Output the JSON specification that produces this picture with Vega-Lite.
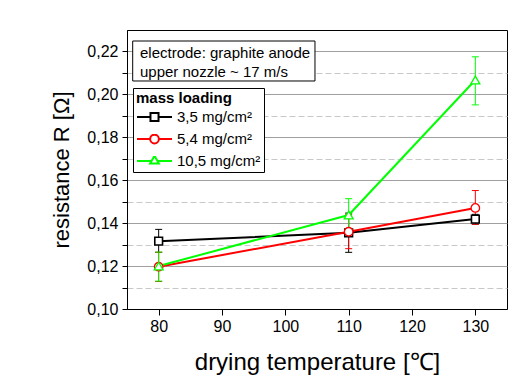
{
  "$schema": "https://vega.github.io/schema/vega-lite/v6.json",
  "width": 380,
  "height": 279,
  "autosize": {"type": "none"},
  "padding": {"left": 127, "top": 30, "right": 24, "bottom": 68},
  "background": "white",
  "config": {
    "font": "Liberation Sans",
    "view": {"stroke": "black", "strokeWidth": 1},
    "axis": {"domainColor": "black", "tickColor": "black", "labelColor": "black", "titleColor": "black", "titleFontWeight": "normal"}
  },
  "data": {
    "values": [
      {"series": "3,5 mg/cm²", "temp": 80, "R": 0.1316, "lo": 0.1264, "hi": 0.1371},
      {"series": "3,5 mg/cm²", "temp": 110, "R": 0.1355, "lo": 0.1264, "hi": 0.1447},
      {"series": "3,5 mg/cm²", "temp": 130, "R": 0.1419, "lo": 0.1395, "hi": 0.1441},
      {"series": "5,4 mg/cm²", "temp": 80, "R": 0.1197, "lo": 0.1128, "hi": 0.1264},
      {"series": "5,4 mg/cm²", "temp": 110, "R": 0.1360, "lo": 0.1281, "hi": 0.1441},
      {"series": "5,4 mg/cm²", "temp": 130, "R": 0.1471, "lo": 0.1395, "hi": 0.1552},
      {"series": "10,5 mg/cm²", "temp": 80, "R": 0.1200, "lo": 0.1130, "hi": 0.1265},
      {"series": "10,5 mg/cm²", "temp": 110, "R": 0.1438, "lo": 0.1362, "hi": 0.1514},
      {"series": "10,5 mg/cm²", "temp": 130, "R": 0.2067, "lo": 0.1951, "hi": 0.2175}
    ]
  },
  "layer": [
    {
      "mark": {"type": "rule", "strokeWidth": 1},
      "encoding": {
        "x": {"field": "temp", "type": "quantitative", "title": "drying temperature [℃]", "scale": {"domain": [75, 135], "nice": false, "zero": false},
          "axis": {"values": [80, 90, 100, 110, 120, 130], "title": "drying temperature [℃]", "grid": false, "tickSize": 6, "labelFontSize": 16, "labelPadding": 3, "titlePadding": 16, "titleFontSize": 24}},
        "y": {"field": "lo", "type": "quantitative", "title": "resistance R [Ω]", "scale": {"domain": [0.10, 0.23], "nice": false, "zero": false},
          "axis": {"values": [0.10, 0.11, 0.12, 0.13, 0.14, 0.15, 0.16, 0.17, 0.18, 0.19, 0.20, 0.21, 0.22], "title": "resistance R [Ω]", "titleFontSize": 22, "titlePadding": 13, "labelFontSize": 16, "labelPadding": 4, "tickSize": 5, "labelExpr": "round(datum.value*100)%2==0 ? replace(format(datum.value,'.2f'),'.',',') : ''", "grid": true, "gridColor": {"condition": {"test": "round(datum.value*100)%2==0", "value": "#808080"}, "value": "#c8c8c8"}, "gridDash": {"condition": {"test": "round(datum.value*100)%2==0", "value": [1, 0]}, "value": [6, 3]}}},
        "y2": {"field": "hi"},
        "stroke": {"field": "series", "type": "nominal", "title": "mass loading", "scale": {"domain": ["3,5 mg/cm²", "5,4 mg/cm²", "10,5 mg/cm²"], "range": ["#000000", "#ff0000", "#00ff00"]},
          "legend": {"title": "mass loading", "orient": "none", "legendX": 6, "legendY": 58, "strokeColor": "black", "fillColor": "white", "padding": 3, "titleFontSize": 15, "titleFontWeight": "bold", "titleColor": "black", "titlePadding": 6, "labelFontSize": 15, "labelColor": "black", "symbolSize": 1225, "symbolStrokeWidth": 2, "symbolFillColor": "white", "clipHeight": 10, "rowPadding": 7, "labelOffset": 4}}
      }
    },
    {
      "mark": {"type": "rule", "strokeWidth": 1, "xOffset": -3.5, "x2Offset": 3.5},
      "encoding": {
        "x": {"field": "temp", "type": "quantitative", "title": "drying temperature [℃]",
          "axis": {"values": [80, 90, 100, 110, 120, 130], "title": "drying temperature [℃]", "grid": false, "tickSize": 6, "labelFontSize": 16, "labelPadding": 3, "titlePadding": 16, "titleFontSize": 24}},
        "x2": {"field": "temp"},
        "y": {"field": "lo", "type": "quantitative", "title": "resistance R [Ω]",
          "axis": {"values": [0.10, 0.11, 0.12, 0.13, 0.14, 0.15, 0.16, 0.17, 0.18, 0.19, 0.20, 0.21, 0.22], "title": "resistance R [Ω]", "titleFontSize": 22, "titlePadding": 13, "labelFontSize": 16, "labelPadding": 4, "tickSize": 5, "labelExpr": "round(datum.value*100)%2==0 ? replace(format(datum.value,'.2f'),'.',',') : ''", "grid": true, "gridColor": {"condition": {"test": "round(datum.value*100)%2==0", "value": "#808080"}, "value": "#c8c8c8"}, "gridDash": {"condition": {"test": "round(datum.value*100)%2==0", "value": [1, 0]}, "value": [6, 3]}}},
        "stroke": {"field": "series", "type": "nominal", "title": "mass loading",
          "legend": {"title": "mass loading", "orient": "none", "legendX": 6, "legendY": 58, "strokeColor": "black", "fillColor": "white", "padding": 3, "titleFontSize": 15, "titleFontWeight": "bold", "titleColor": "black", "titlePadding": 6, "labelFontSize": 15, "labelColor": "black", "symbolSize": 1225, "symbolStrokeWidth": 2, "symbolFillColor": "white", "clipHeight": 10, "rowPadding": 7, "labelOffset": 4}}
      }
    },
    {
      "mark": {"type": "rule", "strokeWidth": 1, "xOffset": -3.5, "x2Offset": 3.5},
      "encoding": {
        "x": {"field": "temp", "type": "quantitative", "title": "drying temperature [℃]",
          "axis": {"values": [80, 90, 100, 110, 120, 130], "title": "drying temperature [℃]", "grid": false, "tickSize": 6, "labelFontSize": 16, "labelPadding": 3, "titlePadding": 16, "titleFontSize": 24}},
        "x2": {"field": "temp"},
        "y": {"field": "hi", "type": "quantitative", "title": "resistance R [Ω]",
          "axis": {"values": [0.10, 0.11, 0.12, 0.13, 0.14, 0.15, 0.16, 0.17, 0.18, 0.19, 0.20, 0.21, 0.22], "title": "resistance R [Ω]", "titleFontSize": 22, "titlePadding": 13, "labelFontSize": 16, "labelPadding": 4, "tickSize": 5, "labelExpr": "round(datum.value*100)%2==0 ? replace(format(datum.value,'.2f'),'.',',') : ''", "grid": true, "gridColor": {"condition": {"test": "round(datum.value*100)%2==0", "value": "#808080"}, "value": "#c8c8c8"}, "gridDash": {"condition": {"test": "round(datum.value*100)%2==0", "value": [1, 0]}, "value": [6, 3]}}},
        "stroke": {"field": "series", "type": "nominal", "title": "mass loading",
          "legend": {"title": "mass loading", "orient": "none", "legendX": 6, "legendY": 58, "strokeColor": "black", "fillColor": "white", "padding": 3, "titleFontSize": 15, "titleFontWeight": "bold", "titleColor": "black", "titlePadding": 6, "labelFontSize": 15, "labelColor": "black", "symbolSize": 1225, "symbolStrokeWidth": 2, "symbolFillColor": "white", "clipHeight": 10, "rowPadding": 7, "labelOffset": 4}}
      }
    },
    {
      "mark": {"type": "line", "strokeWidth": 2},
      "encoding": {
        "x": {"field": "temp", "type": "quantitative", "title": "drying temperature [℃]",
          "axis": {"values": [80, 90, 100, 110, 120, 130], "title": "drying temperature [℃]", "grid": false, "tickSize": 6, "labelFontSize": 16, "labelPadding": 3, "titlePadding": 16, "titleFontSize": 24}},
        "y": {"field": "R", "type": "quantitative", "title": "resistance R [Ω]",
          "axis": {"values": [0.10, 0.11, 0.12, 0.13, 0.14, 0.15, 0.16, 0.17, 0.18, 0.19, 0.20, 0.21, 0.22], "title": "resistance R [Ω]", "titleFontSize": 22, "titlePadding": 13, "labelFontSize": 16, "labelPadding": 4, "tickSize": 5, "labelExpr": "round(datum.value*100)%2==0 ? replace(format(datum.value,'.2f'),'.',',') : ''", "grid": true, "gridColor": {"condition": {"test": "round(datum.value*100)%2==0", "value": "#808080"}, "value": "#c8c8c8"}, "gridDash": {"condition": {"test": "round(datum.value*100)%2==0", "value": [1, 0]}, "value": [6, 3]}}},
        "stroke": {"field": "series", "type": "nominal", "title": "mass loading",
          "legend": {"title": "mass loading", "orient": "none", "legendX": 6, "legendY": 58, "strokeColor": "black", "fillColor": "white", "padding": 3, "titleFontSize": 15, "titleFontWeight": "bold", "titleColor": "black", "titlePadding": 6, "labelFontSize": 15, "labelColor": "black", "symbolSize": 1225, "symbolStrokeWidth": 2, "symbolFillColor": "white", "clipHeight": 10, "rowPadding": 7, "labelOffset": 4}}
      }
    },
    {
      "transform": [{"filter": "datum.series == '3,5 mg/cm²'"}],
      "mark": {"type": "point", "shape": "square", "filled": true, "fill": "white", "size": 60, "strokeWidth": 1.6, "opacity": 1},
      "encoding": {
        "x": {"field": "temp", "type": "quantitative", "title": "drying temperature [℃]",
          "axis": {"values": [80, 90, 100, 110, 120, 130], "title": "drying temperature [℃]", "grid": false, "tickSize": 6, "labelFontSize": 16, "labelPadding": 3, "titlePadding": 16, "titleFontSize": 24}},
        "y": {"field": "R", "type": "quantitative", "title": "resistance R [Ω]",
          "axis": {"values": [0.10, 0.11, 0.12, 0.13, 0.14, 0.15, 0.16, 0.17, 0.18, 0.19, 0.20, 0.21, 0.22], "title": "resistance R [Ω]", "titleFontSize": 22, "titlePadding": 13, "labelFontSize": 16, "labelPadding": 4, "tickSize": 5, "labelExpr": "round(datum.value*100)%2==0 ? replace(format(datum.value,'.2f'),'.',',') : ''", "grid": true, "gridColor": {"condition": {"test": "round(datum.value*100)%2==0", "value": "#808080"}, "value": "#c8c8c8"}, "gridDash": {"condition": {"test": "round(datum.value*100)%2==0", "value": [1, 0]}, "value": [6, 3]}}},
        "stroke": {"field": "series", "type": "nominal", "title": "mass loading",
          "legend": {"title": "mass loading", "orient": "none", "legendX": 6, "legendY": 58, "strokeColor": "black", "fillColor": "white", "padding": 3, "titleFontSize": 15, "titleFontWeight": "bold", "titleColor": "black", "titlePadding": 6, "labelFontSize": 15, "labelColor": "black", "symbolSize": 1225, "symbolStrokeWidth": 2, "symbolFillColor": "white", "clipHeight": 10, "rowPadding": 7, "labelOffset": 4}}
      }
    },
    {
      "transform": [{"filter": "datum.series == '5,4 mg/cm²'"}],
      "mark": {"type": "point", "shape": "circle", "filled": true, "fill": "white", "size": 72, "strokeWidth": 1.3, "opacity": 1},
      "encoding": {
        "x": {"field": "temp", "type": "quantitative", "title": "drying temperature [℃]",
          "axis": {"values": [80, 90, 100, 110, 120, 130], "title": "drying temperature [℃]", "grid": false, "tickSize": 6, "labelFontSize": 16, "labelPadding": 3, "titlePadding": 16, "titleFontSize": 24}},
        "y": {"field": "R", "type": "quantitative", "title": "resistance R [Ω]",
          "axis": {"values": [0.10, 0.11, 0.12, 0.13, 0.14, 0.15, 0.16, 0.17, 0.18, 0.19, 0.20, 0.21, 0.22], "title": "resistance R [Ω]", "titleFontSize": 22, "titlePadding": 13, "labelFontSize": 16, "labelPadding": 4, "tickSize": 5, "labelExpr": "round(datum.value*100)%2==0 ? replace(format(datum.value,'.2f'),'.',',') : ''", "grid": true, "gridColor": {"condition": {"test": "round(datum.value*100)%2==0", "value": "#808080"}, "value": "#c8c8c8"}, "gridDash": {"condition": {"test": "round(datum.value*100)%2==0", "value": [1, 0]}, "value": [6, 3]}}},
        "stroke": {"field": "series", "type": "nominal", "title": "mass loading",
          "legend": {"title": "mass loading", "orient": "none", "legendX": 6, "legendY": 58, "strokeColor": "black", "fillColor": "white", "padding": 3, "titleFontSize": 15, "titleFontWeight": "bold", "titleColor": "black", "titlePadding": 6, "labelFontSize": 15, "labelColor": "black", "symbolSize": 1225, "symbolStrokeWidth": 2, "symbolFillColor": "white", "clipHeight": 10, "rowPadding": 7, "labelOffset": 4}}
      }
    },
    {
      "transform": [{"filter": "datum.series == '10,5 mg/cm²'"}],
      "mark": {"type": "point", "shape": "triangle-up", "filled": true, "fill": "white", "size": 80, "strokeWidth": 1.3, "opacity": 1},
      "encoding": {
        "x": {"field": "temp", "type": "quantitative", "title": "drying temperature [℃]",
          "axis": {"values": [80, 90, 100, 110, 120, 130], "title": "drying temperature [℃]", "grid": false, "tickSize": 6, "labelFontSize": 16, "labelPadding": 3, "titlePadding": 16, "titleFontSize": 24}},
        "y": {"field": "R", "type": "quantitative", "title": "resistance R [Ω]",
          "axis": {"values": [0.10, 0.11, 0.12, 0.13, 0.14, 0.15, 0.16, 0.17, 0.18, 0.19, 0.20, 0.21, 0.22], "title": "resistance R [Ω]", "titleFontSize": 22, "titlePadding": 13, "labelFontSize": 16, "labelPadding": 4, "tickSize": 5, "labelExpr": "round(datum.value*100)%2==0 ? replace(format(datum.value,'.2f'),'.',',') : ''", "grid": true, "gridColor": {"condition": {"test": "round(datum.value*100)%2==0", "value": "#808080"}, "value": "#c8c8c8"}, "gridDash": {"condition": {"test": "round(datum.value*100)%2==0", "value": [1, 0]}, "value": [6, 3]}}},
        "stroke": {"field": "series", "type": "nominal", "title": "mass loading",
          "legend": {"title": "mass loading", "orient": "none", "legendX": 6, "legendY": 58, "strokeColor": "black", "fillColor": "white", "padding": 3, "titleFontSize": 15, "titleFontWeight": "bold", "titleColor": "black", "titlePadding": 6, "labelFontSize": 15, "labelColor": "black", "symbolSize": 1225, "symbolStrokeWidth": 2, "symbolFillColor": "white", "clipHeight": 10, "rowPadding": 7, "labelOffset": 4}}
      }
    },
    {
      "mark": {"type": "point", "filled": true, "fill": "white", "size": 0},
      "encoding": {
        "x": {"field": "temp", "type": "quantitative", "title": "drying temperature [℃]",
          "axis": {"values": [80, 90, 100, 110, 120, 130], "title": "drying temperature [℃]", "grid": false, "tickSize": 6, "labelFontSize": 16, "labelPadding": 3, "titlePadding": 16, "titleFontSize": 24}},
        "y": {"field": "R", "type": "quantitative", "title": "resistance R [Ω]",
          "axis": {"values": [0.10, 0.11, 0.12, 0.13, 0.14, 0.15, 0.16, 0.17, 0.18, 0.19, 0.20, 0.21, 0.22], "title": "resistance R [Ω]", "titleFontSize": 22, "titlePadding": 13, "labelFontSize": 16, "labelPadding": 4, "tickSize": 5, "labelExpr": "round(datum.value*100)%2==0 ? replace(format(datum.value,'.2f'),'.',',') : ''", "grid": true, "gridColor": {"condition": {"test": "round(datum.value*100)%2==0", "value": "#808080"}, "value": "#c8c8c8"}, "gridDash": {"condition": {"test": "round(datum.value*100)%2==0", "value": [1, 0]}, "value": [6, 3]}}},
        "stroke": {"field": "series", "type": "nominal", "title": "mass loading",
          "legend": {"title": "mass loading", "orient": "none", "legendX": 6, "legendY": 58, "strokeColor": "black", "fillColor": "white", "padding": 3, "titleFontSize": 15, "titleFontWeight": "bold", "titleColor": "black", "titlePadding": 6, "labelFontSize": 15, "labelColor": "black", "symbolSize": 1225, "symbolStrokeWidth": 2, "symbolFillColor": "white", "clipHeight": 10, "rowPadding": 7, "labelOffset": 4}},
        "shape": {"field": "series", "type": "nominal", "title": "mass loading",
          "scale": {"domain": ["3,5 mg/cm²", "5,4 mg/cm²", "10,5 mg/cm²"], "range": [
            "M-1,0H-0.23M0.23,0H1M-0.23,-0.23H0.23V0.23H-0.23Z",
            "M-1,0H-0.25M0.25,0H1M-0.25,0A0.25,0.25,0,1,0,0.25,0A0.25,0.25,0,1,0,-0.25,0Z",
            "M-1,0H-0.17M0.17,0H1M0,-0.3L0.25,0.14H-0.25Z"
          ]},
          "legend": {"title": "mass loading", "orient": "none", "legendX": 6, "legendY": 58, "strokeColor": "black", "fillColor": "white", "padding": 3, "titleFontSize": 15, "titleFontWeight": "bold", "titleColor": "black", "titlePadding": 6, "labelFontSize": 15, "labelColor": "black", "symbolSize": 1225, "symbolStrokeWidth": 2, "symbolFillColor": "white", "clipHeight": 10, "rowPadding": 7, "labelOffset": 4}}
      }
    },
    {
      "data": {"values": [{"note": "electrode: graphite anode\nupper nozzle ~ 17 m/s"}]},
      "mark": {"type": "rect", "fill": "white", "stroke": "black", "strokeWidth": 1},
      "encoding": {
        "x": {"datum": 75.9, "type": "quantitative", "title": "drying temperature [℃]",
          "axis": {"values": [80, 90, 100, 110, 120, 130], "title": "drying temperature [℃]", "grid": false, "tickSize": 6, "labelFontSize": 16, "labelPadding": 3, "titlePadding": 16, "titleFontSize": 24}},
        "x2": {"datum": 104.68},
        "y": {"datum": 0.22487, "type": "quantitative", "title": "resistance R [Ω]",
          "axis": {"values": [0.10, 0.11, 0.12, 0.13, 0.14, 0.15, 0.16, 0.17, 0.18, 0.19, 0.20, 0.21, 0.22], "title": "resistance R [Ω]", "titleFontSize": 22, "titlePadding": 13, "labelFontSize": 16, "labelPadding": 4, "tickSize": 5, "labelExpr": "round(datum.value*100)%2==0 ? replace(format(datum.value,'.2f'),'.',',') : ''", "grid": true, "gridColor": {"condition": {"test": "round(datum.value*100)%2==0", "value": "#808080"}, "value": "#c8c8c8"}, "gridDash": {"condition": {"test": "round(datum.value*100)%2==0", "value": [1, 0]}, "value": [6, 3]}}},
        "y2": {"datum": 0.20624}
      }
    },
    {
      "data": {"values": [{"note": "electrode: graphite anode\nupper nozzle ~ 17 m/s"}]},
      "mark": {"type": "text", "lineBreak": "\n", "lineHeight": 19, "align": "left", "baseline": "middle", "fontSize": 15, "fill": "black"},
      "encoding": {
        "text": {"field": "note"},
        "x": {"datum": 77.05, "type": "quantitative", "title": "drying temperature [℃]",
          "axis": {"values": [80, 90, 100, 110, 120, 130], "title": "drying temperature [℃]", "grid": false, "tickSize": 6, "labelFontSize": 16, "labelPadding": 3, "titlePadding": 16, "titleFontSize": 24}},
        "y": {"datum": 0.2194, "type": "quantitative", "title": "resistance R [Ω]",
          "axis": {"values": [0.10, 0.11, 0.12, 0.13, 0.14, 0.15, 0.16, 0.17, 0.18, 0.19, 0.20, 0.21, 0.22], "title": "resistance R [Ω]", "titleFontSize": 22, "titlePadding": 13, "labelFontSize": 16, "labelPadding": 4, "tickSize": 5, "labelExpr": "round(datum.value*100)%2==0 ? replace(format(datum.value,'.2f'),'.',',') : ''", "grid": true, "gridColor": {"condition": {"test": "round(datum.value*100)%2==0", "value": "#808080"}, "value": "#c8c8c8"}, "gridDash": {"condition": {"test": "round(datum.value*100)%2==0", "value": [1, 0]}, "value": [6, 3]}}}
      }
    }
  ]
}
